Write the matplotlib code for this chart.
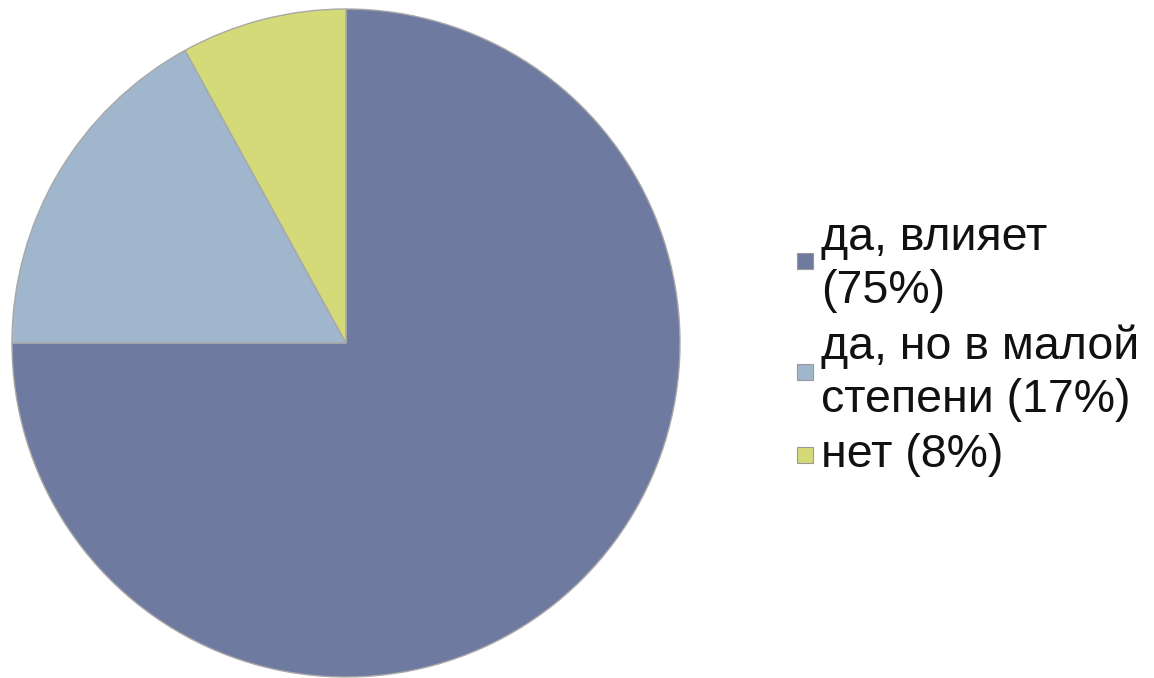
import matplotlib
matplotlib.use("Agg")
import matplotlib.pyplot as plt
from matplotlib.patches import Rectangle

categories = ["да, влияет", "да, но в малой степени", "нет"]
values = [75, 17, 8]
legend_labels = ["да, влияет\n(75%)", "да, но в малой\nстепени (17%)", "нет (8%)"]
colors = ["#6F7AA0", "#9FB6CC", "#D4DA78"]

W, H = 1154, 678
fig = plt.figure(figsize=(W / 100, H / 100), dpi=100)
ax = fig.add_axes([0, 0, 1, 1])
ax.set_xlim(0, W)
ax.set_ylim(0, H)
ax.set_aspect("equal")
ax.axis("off")

ax.pie(values, colors=colors, startangle=90, counterclock=False,
       center=(346, H - 343), radius=334,
       wedgeprops=dict(edgecolor="#A8A8A8", linewidth=1.0))
ax.set_xlim(0, W)
ax.set_ylim(0, H)

# legend (manual)
text_x = 821
first_baselines = [250, 359, 467]
marker_centers = [261, 372, 455]
line_gap = 53
for lab, col, yb, ym in zip(legend_labels, colors, first_baselines, marker_centers):
    for k, line in enumerate(lab.split("\n")):
        ax.text(text_x, H - (yb + k * line_gap), line, fontsize=33.5,
                family="Liberation Sans", va="baseline", ha="left",
                color="#111111")
    ax.add_patch(Rectangle((797, H - ym - 8), 16, 16, facecolor=col,
                           edgecolor="#999999", linewidth=0.8))

fig.savefig("out.png", dpi=100)
